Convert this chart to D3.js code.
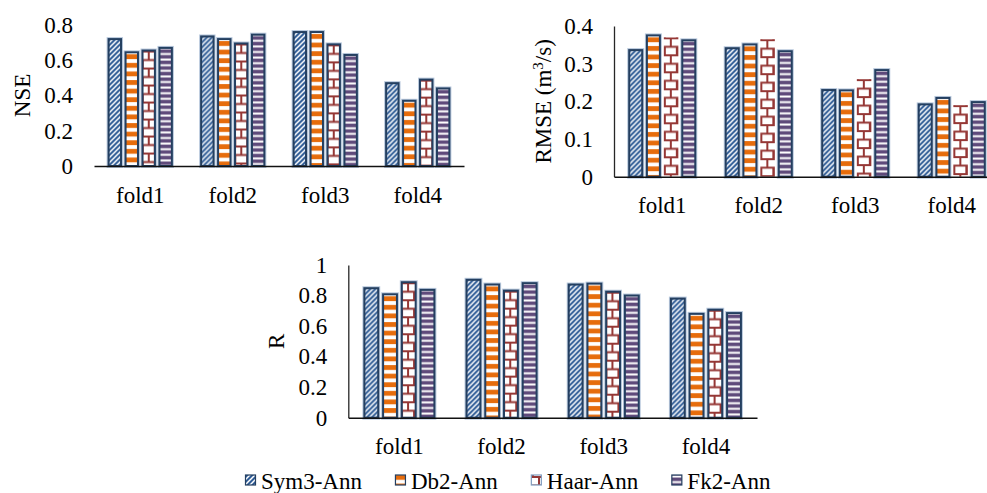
<!DOCTYPE html>
<html><head><meta charset="utf-8">
<script src="https://cdn.jsdelivr.net/npm/d3@7"></script>
<style>
body{margin:0;background:#fff}
svg text{font-family:"Liberation Serif","Times New Roman",Times,serif !important;fill:#000}
</style>
</head><body>
<svg id="c" width="987" height="493" style="display:block;background:#fff;font-family:'Liberation Serif','Times New Roman',Times,serif"></svg>
<script>
// ---------- data ----------
const folds = ["fold1", "fold2", "fold3", "fold4"];
const seriesNames = ["Sym3-Ann", "Db2-Ann", "Haar-Ann", "Fk2-Ann"];

const nseSym3 = [0.72, 0.735, 0.76, 0.47];
const nseDb2  = [0.645, 0.72, 0.76, 0.37];
const nseHaar = [0.655, 0.695, 0.69, 0.49];
const nseFk2  = [0.67, 0.745, 0.63, 0.44];

const rmseSym3 = [0.336, 0.341, 0.230, 0.192];
const rmseDb2  = [0.375, 0.351, 0.229, 0.209];
const rmseHaar = [0.370, 0.365, 0.259, 0.190];
const rmseFk2  = [0.362, 0.333, 0.283, 0.198];

const rSym3 = [0.848, 0.903, 0.872, 0.780];
const rDb2  = [0.808, 0.872, 0.878, 0.680];
const rHaar = [0.887, 0.832, 0.825, 0.707];
const rFk2  = [0.837, 0.881, 0.800, 0.685];

const nseTicks  = [0, 0.2, 0.4, 0.6, 0.8];
const rmseTicks = [0, 0.1, 0.2, 0.3, 0.4];
const rTicks    = [0, 0.2, 0.4, 0.6, 0.8, 1];

// ---------- styles ----------
const FONT = "'Liberation Serif','Times New Roman',Times,serif";
const colBlue = "#2F5C96", colOrange = "#E66C0C", colRed = "#953735", colPurple = "#5F4A7B";
const outline = "#243F60", halo = "#B8C8DC";
const fontSize = 23;

const svg = d3.select("#c");
const defs = svg.append("defs");

// Sym3: dashed upward diagonal (blue with white dashes)
{
  const p = defs.append("pattern").attr("id", "pSym3").attr("patternUnits", "userSpaceOnUse")
    .attr("width", 5).attr("height", 5);
  p.append("rect").attr("width", 5).attr("height", 5).attr("fill", colBlue);
  p.append("path").attr("d", "M-1,6 L6,-1 M-1,1 L1,-1 M4,6 L6,4")
    .attr("stroke", "#fff").attr("stroke-width", 1.5).attr("fill", "none");
}
// Db2: wide horizontal stripes
{
  const p = defs.append("pattern").attr("id", "pDb2").attr("patternUnits", "userSpaceOnUse")
    .attr("width", 8).attr("height", 8.6);
  p.append("rect").attr("width", 8).attr("height", 8.6).attr("fill", "#fff");
  p.append("rect").attr("y", 2).attr("width", 8).attr("height", 4.8).attr("fill", colOrange);
}
// Fk2: narrow horizontal
{
  const p = defs.append("pattern").attr("id", "pFk2").attr("patternUnits", "userSpaceOnUse")
    .attr("width", 8).attr("height", 5.6);
  p.append("rect").attr("width", 8).attr("height", 5.6).attr("fill", "#fff");
  p.append("rect").attr("y", 1.5).attr("width", 8).attr("height", 3.6).attr("fill", colPurple);
}
// Haar: brick
{
  const p = defs.append("pattern").attr("id", "pHaar").attr("patternUnits", "userSpaceOnUse")
    .attr("width", 14).attr("height", 17);
  p.append("rect").attr("width", 14).attr("height", 17).attr("fill", "#fff");
  p.append("path").attr("d", "M0,1 H14 M0,9.5 H14 M7,1 V9.5 M1,9.5 V17 M13,9.5 V17")
    .attr("stroke", colRed).attr("stroke-width", 2).attr("fill", "none");
}
const patterns = ["url(#pSym3)", "url(#pDb2)", "url(#pHaar)", "url(#pFk2)"];

const fmt = d => d === 0 ? "0" : String(+d.toFixed(1));

function drawChart(cfg) {
  const g = svg.append("g");
  const x0 = d3.scaleBand().domain(folds).range([cfg.left, cfg.right]).paddingInner(0.3).paddingOuter(0.15);
  const x1 = d3.scaleBand().domain(seriesNames).range([0, x0.bandwidth()]).paddingInner(0.18);
  const y = d3.scaleLinear().domain([0, cfg.ticks[cfg.ticks.length - 1]]).range([cfg.bottom, cfg.top]);
  const bw = x1.bandwidth();

  folds.forEach((f, i) => {
    seriesNames.forEach((s, j) => {
      const v = cfg.values[j][i];
      const h = cfg.bottom - y(v);
      const bg = g.append("g").attr("transform", `translate(${x0(f) + x1(s)},${y(v)})`);
      const noOutline = (j === 2 && !cfg.haarOutline);
      if (noOutline) {
        bg.append("rect").attr("x", 0).attr("y", 0).attr("width", bw).attr("height", h)
          .attr("fill", patterns[j]);
      } else {
        bg.append("rect").attr("x", 0.75).attr("y", 0).attr("width", bw - 1.5).attr("height", h)
          .attr("fill", "none").attr("stroke", halo).attr("stroke-width", 4);
        bg.append("rect").attr("x", 0.75).attr("y", 0).attr("width", bw - 1.5).attr("height", h)
          .attr("fill", patterns[j]).attr("stroke", outline).attr("stroke-width", 2);
      }
    });
  });

  // y axis
  const ya = g.append("g").attr("transform", `translate(${cfg.left},0)`)
    .call(d3.axisLeft(y).tickValues(cfg.ticks).tickFormat(fmt).tickSize(0).tickPadding(21));
  ya.attr("font-family", FONT);
  ya.selectAll("text").attr("font-size", fontSize).attr("font-family", FONT).attr("fill", "#000");
  if (cfg.yLine) ya.select(".domain").attr("stroke", "#262626").attr("stroke-width", 1.3);
  else ya.select(".domain").remove();

  // x axis
  const xa = g.append("g").attr("transform", `translate(0,${cfg.bottom})`)
    .call(d3.axisBottom(x0).tickSize(0).tickSizeOuter(0));
  xa.attr("font-family", FONT);
  xa.select(".domain").attr("stroke", "#111").attr("stroke-width", 1.4);
  xa.selectAll("text").attr("font-size", fontSize).attr("font-family", FONT).attr("fill", "#000")
    .attr("y", 36.5).attr("dy", 0);

  // title
  const t = g.append("text")
    .attr("transform", `translate(${cfg.titleX},${(cfg.top + cfg.bottom) / 2}) rotate(-90)`)
    .attr("text-anchor", "middle").attr("dy", "0.33em").attr("font-size", fontSize)
    .attr("font-family", FONT);
  cfg.title(t);
}

drawChart({
  left: 94, right: 464, top: 25, bottom: 166, ticks: nseTicks,
  values: [nseSym3, nseDb2, nseHaar, nseFk2], yLine: false, haarOutline: true,
  titleX: 22, title: t => t.text("NSE")
});
drawChart({
  left: 614, right: 1000, top: 26, bottom: 176.7, ticks: rmseTicks,
  values: [rmseSym3, rmseDb2, rmseHaar, rmseFk2], yLine: true, haarOutline: false,
  titleX: 543, title: t => {
    t.append("tspan").text("RMSE (m");
    t.append("tspan").attr("dy", -8).attr("font-size", 15).text("3");
    t.append("tspan").attr("dy", 8).text("/s)");
  }
});
drawChart({
  left: 348.3, right: 757, top: 265, bottom: 417.7, ticks: rTicks,
  values: [rSym3, rDb2, rHaar, rFk2], yLine: true, haarOutline: true,
  titleX: 276, title: t => t.text("R")
});

// legend
{
  const lg = svg.append("g");
  let x = 245;
  const base = 488.5;
  seriesNames.forEach((s, j) => {
    lg.append("rect").attr("x", x + 0.5).attr("y", base - 13.5).attr("width", 10).attr("height", 10)
      .attr("fill", patterns[j]).attr("stroke", j === 2 ? "#7F9DBF" : outline).attr("stroke-width", 1.2);
    const tx = lg.append("text").attr("x", x + 16).attr("y", base).attr("font-size", fontSize)
      .attr("font-family", FONT).text(s);
    const w = tx.node().getComputedTextLength();
    x = x + 16 + w + 33;
  });
}
</script>
</body></html>
